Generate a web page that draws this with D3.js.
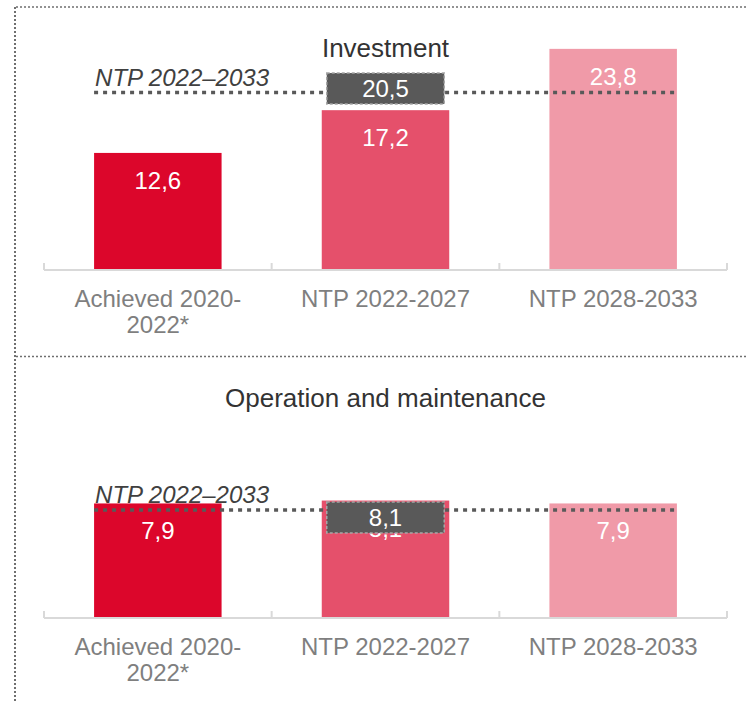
<!DOCTYPE html>
<html>
<head>
<meta charset="utf-8">
<script src="https://cdn.jsdelivr.net/npm/d3@7"></script>
<style>
  body { margin: 0; background: #fff; }
  text { font-family: "Liberation Sans", Arial, sans-serif; }
</style>
</head>
<body>
<div class="chart"></div>
<script>
// categories (each split in lines) and values
var categories = [["Achieved 2020-", "2022*"], ["NTP 2022-2027"], ["NTP 2028-2033"]];
var investment = [12.6, 17.2, 23.8];
var operation = [7.9, 8.1, 7.9];
var ntpTotals = [20.5, 8.1];      // NTP 2022–2033 figures in the grey boxes
var ntpLevels = [19.1, 7.45];     // level where the dotted line is drawn
var titles = ["Investment", "Operation and maintenance"];
var colors = ["#dc062b", "#e5506b", "#f09aa8"];

var width = 746, height = 701;
var fmt = d3.formatLocale({ decimal: ",", thousands: " ", grouping: [3], currency: ["", ""] }).format(".1f");

var svg = d3.select(".chart")
  .append("svg")
  .attr("width", width)
  .attr("height", height);

// dotted frame
svg.append("line")
  .attr("x1", 15).attr("y1", 7).attr("x2", 15).attr("y2", height)
  .attr("stroke", "#6f6f6f").attr("stroke-width", 2).attr("stroke-dasharray", "2,2");
[7, 356.5].forEach(function (yy) {
  svg.append("line")
    .attr("x1", 16).attr("y1", yy).attr("x2", width).attr("y2", yy)
    .attr("stroke", "#6f6f6f").attr("stroke-width", 1.5).attr("stroke-dasharray", "2,2");
});

var x = d3.scaleBand()
  .domain(d3.range(categories.length))
  .range([44, 727])
  .paddingInner(0.44)
  .paddingOuter(0.22);

var panels = [
  { values: investment, baseline: 270, top: 47, max: 24, boxShift: -4 },
  { values: operation, baseline: 618, top: 502, max: 8, boxShift: 7.5 }
];

panels.forEach(function (p, pi) {
  var y = d3.scaleLinear().domain([0, p.max]).range([p.baseline, p.top]);
  var g = svg.append("g");

  // title
  g.append("text")
    .attr("x", (x.range()[0] + x.range()[1]) / 2)
    .attr("y", pi === 0 ? 57 : 407)
    .attr("text-anchor", "middle")
    .style("font-size", "26px")
    .style("fill", "#333")
    .text(titles[pi]);

  // bars
  g.selectAll(".bar")
    .data(p.values)
    .enter()
    .append("rect")
    .attr("x", function (d, i) { return x(i); })
    .attr("width", x.bandwidth())
    .attr("y", function (d) { return y(d); })
    .attr("height", function (d) { return y(0) - y(d); })
    .style("fill", function (d, i) { return colors[i]; });

  g.selectAll(".val")
    .data(p.values)
    .enter()
    .append("text")
    .attr("x", function (d, i) { return x(i) + x.bandwidth() / 2; })
    .attr("y", function (d) { return y(d) + 36; })
    .attr("text-anchor", "middle")
    .style("font-size", "24px")
    .style("fill", "#fff")
    .text(function (d) { return fmt(d); });

  // axis baseline + ticks
  g.append("line")
    .attr("x1", x.range()[0]).attr("x2", x.range()[1])
    .attr("y1", y(0)).attr("y2", y(0))
    .attr("stroke", "#d9d9d9").attr("stroke-width", 2);
  d3.range(categories.length + 1).forEach(function (i) {
    var tx = x.range()[0] + i * x.step();
    g.append("line")
      .attr("x1", tx).attr("x2", tx)
      .attr("y1", y(0) - 7).attr("y2", y(0))
      .attr("stroke", "#d9d9d9").attr("stroke-width", 2);
  });

  // category labels
  categories.forEach(function (lines, i) {
    var t = g.append("text")
      .attr("text-anchor", "middle")
      .style("font-size", "24px")
      .style("fill", "#7f7f7f");
    lines.forEach(function (l, li) {
      t.append("tspan")
        .attr("x", x(i) + x.bandwidth() / 2)
        .attr("y", y(0) + 37 + li * 26)
        .text(l);
    });
  });

  // NTP 2022–2033 dotted reference
  var ly = y(ntpLevels[pi]);
  var x0 = x(0), x1 = x(categories.length - 1) + x.bandwidth();
  g.append("line")
    .attr("x1", x0).attr("x2", x1)
    .attr("y1", ly).attr("y2", ly)
    .attr("stroke", "#595959").attr("stroke-width", 3.5).attr("stroke-dasharray", "4,5");

  g.append("text")
    .attr("x", x0 + 1)
    .attr("y", ly - 7)
    .style("font-size", "24px")
    .style("font-style", "italic")
    .style("fill", "#404040")
    .text("NTP 2022\u20132033");

  var bw = x.bandwidth() - 10, bh = 31;
  var cy = ly + p.boxShift;
  g.append("rect")
    .attr("x", x(1) + 5)
    .attr("y", cy - bh / 2)
    .attr("width", bw)
    .attr("height", bh)
    .style("fill", "#595959")
    .attr("stroke", "#a6a6a6")
    .attr("stroke-width", 1.5)
    .attr("stroke-dasharray", "3,2");

  g.append("text")
    .attr("x", x(1) + x.bandwidth() / 2)
    .attr("y", cy + 8.5)
    .attr("text-anchor", "middle")
    .style("font-size", "24px")
    .style("fill", "#fff")
    .text(fmt(ntpTotals[pi]));
});
</script>
</body>
</html>
